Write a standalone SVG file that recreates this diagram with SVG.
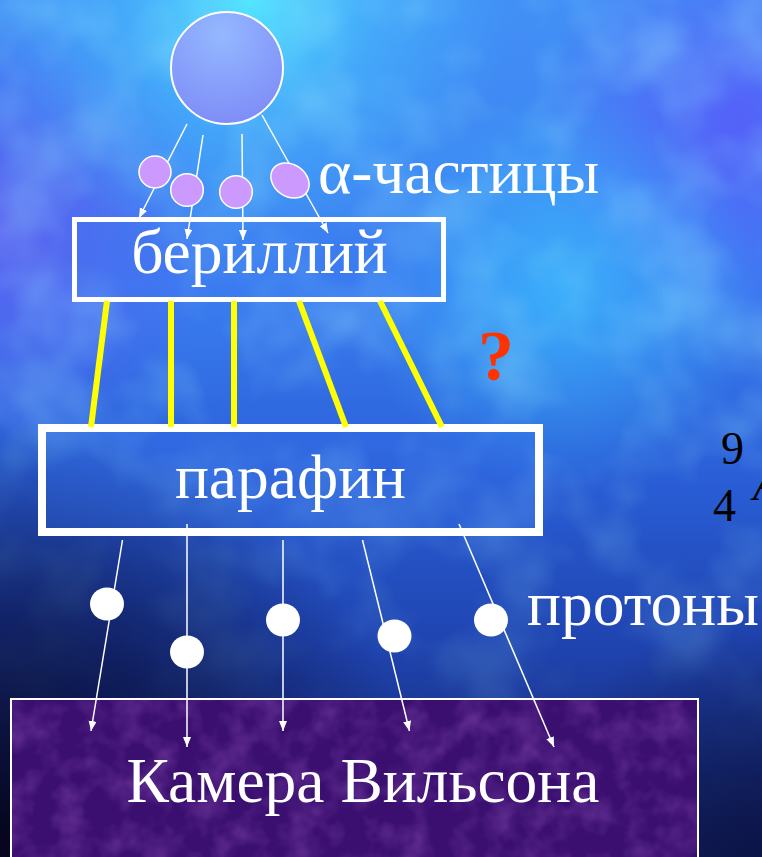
<svg xmlns="http://www.w3.org/2000/svg" width="762" height="857" viewBox="0 0 762 857">
<defs>
  <linearGradient id="bgBase" x1="0" y1="0" x2="0" y2="1">
    <stop offset="0" stop-color="#4290f6"/>
    <stop offset="0.35" stop-color="#3a7cf0"/>
    <stop offset="0.55" stop-color="#2a5fd8"/>
    <stop offset="0.75" stop-color="#1f44b0"/>
    <stop offset="1" stop-color="#142064"/>
  </linearGradient>
  <radialGradient id="cyanTop" cx="250" cy="0" r="260" gradientUnits="userSpaceOnUse">
    <stop offset="0" stop-color="#55eaff" stop-opacity="0.95"/>
    <stop offset="0.5" stop-color="#48c8ff" stop-opacity="0.45"/>
    <stop offset="1" stop-color="#48c8ff" stop-opacity="0"/>
  </radialGradient>
  <radialGradient id="cyanMid" cx="560" cy="290" r="200" gradientUnits="userSpaceOnUse">
    <stop offset="0" stop-color="#3cc4ff" stop-opacity="0.7"/>
    <stop offset="1" stop-color="#3cc4ff" stop-opacity="0"/>
  </radialGradient>
  <radialGradient id="violetR" cx="740" cy="120" r="200" gradientUnits="userSpaceOnUse">
    <stop offset="0" stop-color="#5a58fa" stop-opacity="0.8"/>
    <stop offset="1" stop-color="#5a58fa" stop-opacity="0"/>
  </radialGradient>
  <radialGradient id="violetL" cx="0" cy="230" r="220" gradientUnits="userSpaceOnUse">
    <stop offset="0" stop-color="#6258f0" stop-opacity="0.8"/>
    <stop offset="1" stop-color="#6258f0" stop-opacity="0"/>
  </radialGradient>
  <radialGradient id="darkBL" cx="0" cy="840" r="420" gradientUnits="userSpaceOnUse">
    <stop offset="0" stop-color="#05061c" stop-opacity="1"/>
    <stop offset="0.5" stop-color="#0a1040" stop-opacity="0.7"/>
    <stop offset="1" stop-color="#0a1040" stop-opacity="0"/>
  </radialGradient>
  <radialGradient id="darkBR" cx="762" cy="857" r="240" gradientUnits="userSpaceOnUse">
    <stop offset="0" stop-color="#0a1240" stop-opacity="0.85"/>
    <stop offset="1" stop-color="#0a1240" stop-opacity="0"/>
  </radialGradient>
  <radialGradient id="atomFill" cx="0.45" cy="0.2" r="0.9">
    <stop offset="0" stop-color="#94b8ff"/>
    <stop offset="1" stop-color="#7c88f6"/>
  </radialGradient>
  <linearGradient id="fadeGrad" x1="0" y1="0" x2="0" y2="1">
    <stop offset="0" stop-color="#ffffff"/>
    <stop offset="0.55" stop-color="#ffffff"/>
    <stop offset="1" stop-color="#000000"/>
  </linearGradient>
  <mask id="fade" maskUnits="userSpaceOnUse" x="0" y="0" width="762" height="857">
    <rect x="0" y="0" width="762" height="857" fill="url(#fadeGrad)"/>
  </mask>
  <filter id="clouds" x="0" y="0" width="1" height="1">
    <feTurbulence type="fractalNoise" baseFrequency="0.011" numOctaves="3" seed="7"/>
    <feColorMatrix type="matrix" values="0 0 0 0 0.35  0 0 0 0 0.85  0 0 0 0 1  1.8 0 0 0 -0.75"/>
  </filter>
  <filter id="grain" x="0" y="0" width="1" height="1">
    <feTurbulence type="fractalNoise" baseFrequency="0.035" numOctaves="3" seed="2"/>
    <feColorMatrix type="matrix" values="0 0 0 0 0.42  0 0 0 0 0.14  0 0 0 0 0.62  1.3 0 0 0 -0.5"/>
  </filter>
  <marker id="arr" markerUnits="userSpaceOnUse" markerWidth="11" markerHeight="9" refX="10" refY="4" orient="auto">
    <path d="M0,0 L10,4 L0,8 Z" fill="#ffffff"/>
  </marker>
  <style>
    .lbl { font-family: "Liberation Serif", "Times New Roman", serif; fill: #ffffff; font-size: 63.5px; }
    .box { fill: #3a78ee; fill-opacity: 0.25; stroke: #ffffff; }
    .ray { stroke: #ffffff; stroke-width: 1.5; fill: none; marker-end: url(#arr); }
    .beam { stroke: #ffff00; stroke-width: 6; }
    .alpha { fill: #cc99ff; stroke: #ffffff; stroke-width: 1.5; }
    .proton { fill: #ffffff; }
    .iso { font-family: "Liberation Serif", "Times New Roman", serif; fill: #000000; font-size: 46px; }
  </style>
</defs>

<!-- background -->
<rect x="0" y="0" width="762" height="857" fill="url(#bgBase)"/>
<rect x="0" y="0" width="762" height="857" fill="url(#violetL)"/>
<rect x="0" y="0" width="762" height="857" fill="url(#violetR)"/>
<rect x="0" y="0" width="762" height="857" fill="url(#cyanTop)"/>
<rect x="0" y="0" width="762" height="857" fill="url(#cyanMid)"/>
<g mask="url(#fade)">
  <rect x="0" y="0" width="762" height="857" filter="url(#clouds)" opacity="0.4"/>
</g>
<rect x="0" y="0" width="762" height="857" fill="url(#darkBL)"/>
<rect x="0" y="0" width="762" height="857" fill="url(#darkBR)"/>

<!-- cloud chamber -->
<g id="chamber">
  <rect x="11" y="699" width="687" height="170" fill="#3a0f70" stroke="#ffffff" stroke-width="2"/>
  <rect x="12" y="700" width="685" height="157" filter="url(#grain)" opacity="0.5"/>
  <text class="lbl" x="363" y="802" text-anchor="middle">Камера Вильсона</text>
</g>

<!-- source atom -->
<g id="source">
  <circle cx="227" cy="68" r="56" fill="url(#atomFill)" stroke="#ffffff" stroke-width="2"/>
</g>

<!-- beryllium -->
<g id="beryllium">
  <rect class="box" x="74.5" y="219.5" width="369" height="80" stroke-width="5"/>
  <text class="lbl" x="259.5" y="273" text-anchor="middle">бериллий</text>
</g>

<!-- paraffin -->
<g id="paraffin">
  <rect class="box" x="42" y="428" width="497" height="104" stroke-width="8"/>
  <text class="lbl" x="290.5" y="498" text-anchor="middle">парафин</text>
</g>

<!-- connectors -->
<g id="connectors">
  <line class="ray" x1="187" y1="124" x2="139" y2="218"/>
  <line class="ray" x1="203" y1="135" x2="187" y2="239"/>
  <line class="ray" x1="242" y1="134" x2="243" y2="240"/>
  <line class="ray" x1="262" y1="115" x2="328" y2="233"/>

  <line class="beam" x1="107" y1="301" x2="91" y2="427"/>
  <line class="beam" x1="171" y1="301" x2="171" y2="427"/>
  <line class="beam" x1="234" y1="301" x2="234" y2="427"/>
  <line class="beam" x1="299" y1="301" x2="346" y2="427"/>
  <line class="beam" x1="380" y1="301" x2="442" y2="427"/>

  <line class="ray" x1="122.5" y1="540" x2="91" y2="731"/>
  <line class="ray" x1="187" y1="524" x2="187" y2="747"/>
  <line class="ray" x1="283" y1="540" x2="283" y2="731"/>
  <line class="ray" x1="362.5" y1="540" x2="409.5" y2="731"/>
  <line class="ray" x1="459" y1="524" x2="554" y2="747"/>
</g>

<!-- alpha particles -->
<g id="alpha-particles">
  <circle class="alpha" cx="155" cy="172" r="16"/>
  <circle class="alpha" cx="187" cy="190" r="16.3"/>
  <circle class="alpha" cx="236" cy="192" r="16.3"/>
  <ellipse class="alpha" cx="290" cy="180.5" rx="20.5" ry="16" transform="rotate(35 290 180.5)"/>
  <text class="lbl" x="318" y="193">α-частицы</text>
</g>

<!-- question mark -->
<g id="question">
  <text x="496" y="380" text-anchor="middle" font-family="Liberation Serif, serif" font-weight="bold" font-size="72" fill="#ff3300">?</text>
</g>

<!-- isotope fragment -->
<g id="isotope">
  <text class="iso" x="721" y="464">9</text>
  <text class="iso" x="713" y="521">4</text>
  <text class="iso" x="753" y="500" font-style="italic">A</text>
</g>

<!-- protons -->
<g id="protons">
  <ellipse class="proton" cx="107" cy="604" rx="17" ry="16.5"/>
  <ellipse class="proton" cx="187" cy="652" rx="17" ry="16.5"/>
  <ellipse class="proton" cx="283" cy="620" rx="17" ry="16.5"/>
  <ellipse class="proton" cx="394.5" cy="636" rx="17" ry="16.5"/>
  <ellipse class="proton" cx="491" cy="620" rx="17" ry="16.5"/>
  <text class="lbl" x="527" y="625">протоны</text>
</g>
</svg>
